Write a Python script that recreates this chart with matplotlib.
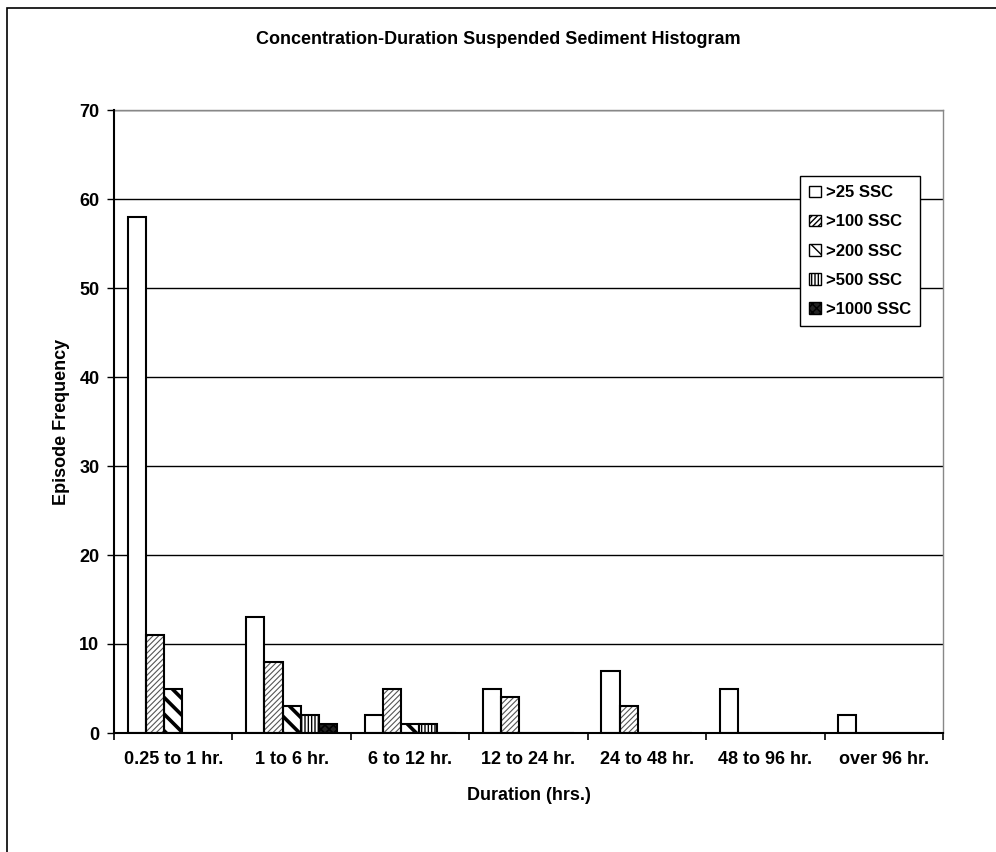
import matplotlib
matplotlib.use("Agg")
import matplotlib.pyplot as plt
from matplotlib.patches import Rectangle, Patch
import numpy as np

plt.rcParams["font.family"] = ["Liberation Sans", "DejaVu Sans"]
plt.rcParams["font.weight"] = "bold"

categories = ["0.25 to 1 hr.", "1 to 6 hr.", "6 to 12 hr.", "12 to 24 hr.",
              "24 to 48 hr.", "48 to 96 hr.", "over 96 hr."]
series_names = [">25 SSC", ">100 SSC", ">200 SSC", ">500 SSC", ">1000 SSC"]
ssc_25 = [58, 13, 2, 5, 7, 5, 2]
ssc_100 = [11, 8, 5, 4, 3, 0, 0]
ssc_200 = [5, 3, 1, 0, 0, 0, 0]
ssc_500 = [0, 2, 1, 0, 0, 0, 0]
ssc_1000 = [0, 1, 0, 0, 0, 0, 0]
series = [ssc_25, ssc_100, ssc_200, ssc_500, ssc_1000]

# hatch, hatch colour, hatch line width, face colour per series
styles = [
    ("", "black", 1.0, "white"),
    ("//////", "#555555", 0.8, "white"),
    ("\\\\", "black", 2.6, "white"),
    ("|||||", "black", 1.0, "white"),
    ("xxxx", "black", 1.2, "#222222"),
]

fig = plt.figure(figsize=(9.96, 8.52), dpi=100)
# outer chart frame (right/bottom edges run off the picture)
fig.patches.append(Rectangle((6.5 / 996, -0.01), 1.02, 1 - 7.5 / 852 + 0.01,
                             transform=fig.transFigure, fill=False,
                             edgecolor="black", linewidth=1.2))

ax = fig.add_axes([114 / 996, 1 - 733 / 852, (943 - 114) / 996, (733 - 110) / 852])

x = np.arange(len(categories))
bw = 0.1536
start = -0.384
for i, vals in enumerate(series):
    hatch, hcol, hlw, face = styles[i]
    pos = x + start + bw * (i + 0.5)
    with plt.rc_context({"hatch.linewidth": hlw}):
        ax.bar(pos, vals, width=bw, color=face, edgecolor=hcol, hatch=hatch,
               linewidth=0, zorder=3)
    ax.bar(pos, vals, width=bw, fill=False, edgecolor="black", linewidth=1.5, zorder=4)

ax.set_xlim(-0.5, len(categories) - 0.5)
ax.set_ylim(0, 70)
ax.set_yticks(range(0, 71, 10))
ax.set_xticks(x)
ax.set_xticklabels(categories, fontsize=13, fontweight="bold")
ax.set_xticks(np.arange(-0.5, len(categories), 1.0), minor=True)
ax.tick_params(axis="x", which="major", length=0, pad=13)
ax.tick_params(axis="x", which="minor", length=5, width=1.2, direction="out")
ax.tick_params(axis="y", length=5, width=1.0, direction="out", labelsize=13, pad=5.5)
for lab in ax.get_yticklabels():
    lab.set_fontweight("bold")

ax.grid(axis="y", color="black", linewidth=1.0, zorder=0)
for side in ["top", "right"]:
    ax.spines[side].set_color("#888888")
    ax.spines[side].set_linewidth(1.0)
for side in ["left", "bottom"]:
    ax.spines[side].set_color("black")
    ax.spines[side].set_linewidth(1.5)
    ax.spines[side].set_zorder(5)

ax.set_xlabel("Duration (hrs.)", fontsize=13, fontweight="bold", labelpad=14)
ax.set_ylabel("Episode Frequency", fontsize=13, fontweight="bold", labelpad=6.5)
fig.text(0.5, 1 - 40 / 852, "Concentration-Duration Suspended Sediment Histogram",
         ha="center", va="center", fontsize=13, fontweight="bold")

handles = []
for i, name in enumerate(series_names):
    hatch, hcol, hlw, face = styles[i]
    handles.append(Patch(facecolor=face, edgecolor="black", hatch=hatch, linewidth=1.0,
                         label=name))
leg = ax.legend(handles=handles, loc="upper left",
                bbox_to_anchor=((800 - 114) / 829, (733 - 176) / 623),
                frameon=True, fancybox=False, edgecolor="black", framealpha=1,
                prop={"weight": "bold", "size": 12}, handlelength=0.7, handleheight=0.7,
                handletextpad=0.3, labelspacing=0.85, borderpad=0.55, borderaxespad=0)
leg.get_frame().set_linewidth(1.0)
leg.set_zorder(6)

fig.savefig("out.png", dpi=100)
